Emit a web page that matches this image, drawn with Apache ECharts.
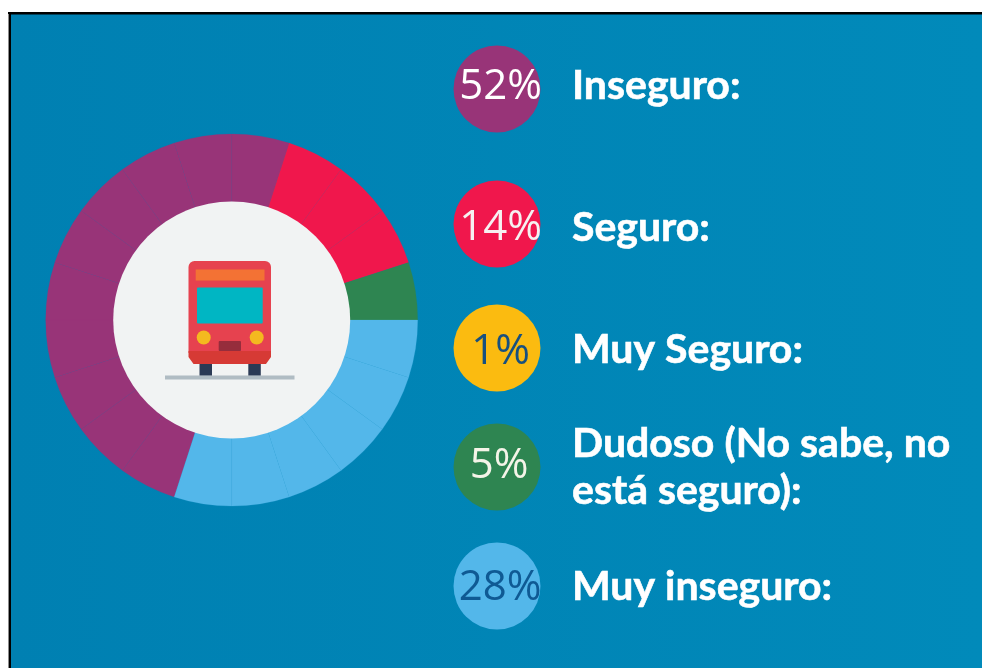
<!DOCTYPE html>
<html>
<head>
<meta charset="utf-8">
<style>
  html, body { margin: 0; padding: 0; background: #fff; }
  #chart { width: 982px; height: 668px; }
</style>
<script src="https://cdn.jsdelivr.net/npm/echarts@6/dist/echarts.min.js"></script>
</head>
<body>
<div id="chart"></div>
<script>
// legend, top to bottom
var categories = ['Inseguro:', 'Seguro:', 'Muy Seguro:', 'Dudoso (No sabe, no\nestá seguro):', 'Muy inseguro:'];
var percentLabels = [52, 14, 1, 5, 28];

// the ring is built out of equal 5% wedges
var wedgeValue = 5;
var wedgeCounts = [10, 3, 0, 1, 6];

var colors = ['#983478', '#f0174c', '#fbbb10', '#2e8551', '#53b7ea'];
var percentColors = ['#ffffff', '#f6f1f1', '#17507f', '#f4f4e8', '#0f5a94'];
var circleY = [89, 224, 348, 467, 586];
var percentX = [500.5, 500.5, 500.5, 499, 500];
var percentY = [87, 228, 352, 466, 588];
var textY = [86, 228, 350, 467, 587];

var pieData = [];
wedgeCounts.forEach(function (count, i) {
  for (var k = 0; k < count; k++) {
    pieData.push({
      name: categories[i],
      value: wedgeValue,
      itemStyle: { color: colors[i], borderColor: colors[i], borderWidth: 0.2 }
    });
  }
});

var graphics = [
  { type: 'rect', z: 0, shape: { x: 8, y: 12, width: 974, height: 656 }, style: { fill: '#000' } },
  { type: 'rect', z: 0, shape: { x: 8, y: 14, width: 1, height: 654 }, style: { fill: '#8c8c8c' } },
  { type: 'rect', z: 0, shape: { x: 11, y: 14.5, width: 971, height: 654 }, style: {
    fill: new echarts.graphic.LinearGradient(0, 0, 1, 0, [
      { offset: 0, color: '#0080b2' },
      { offset: 1, color: '#018aba' }
    ])
  } },
  // centre of the ring and the bus
  { type: 'circle', z: 5, shape: { cx: 231.7, cy: 320, r: 118.5 }, style: { fill: '#f1f3f3' } },
  { type: 'rect', z: 6, shape: { x: 165, y: 375.5, width: 129.5, height: 4 }, style: { fill: '#b0bcc3' } },
  { type: 'rect', z: 6, shape: { x: 199.5, y: 362, width: 12.5, height: 13.5 }, style: { fill: '#2b3a55' } },
  { type: 'rect', z: 6, shape: { x: 248.3, y: 362, width: 12.5, height: 13.5 }, style: { fill: '#2b3a55' } },
  { type: 'rect', z: 6, shape: { x: 188.5, y: 261, width: 82.5, height: 92, r: [6, 6, 0, 0] }, style: { fill: '#e6424f' } },
  { type: 'polygon', z: 6, shape: { points: [[188.5, 351], [271, 351], [271, 357], [266, 364], [193.5, 364], [188.5, 357]] }, style: { fill: '#d63a35' } },
  { type: 'rect', z: 7, shape: { x: 195.7, y: 269.5, width: 68.8, height: 11 }, style: { fill: '#f37234' } },
  { type: 'rect', z: 7, shape: { x: 197, y: 287.5, width: 65.7, height: 36, r: 1 }, style: { fill: '#00b6c3' } },
  { type: 'circle', z: 7, shape: { cx: 203.7, cy: 337.5, r: 7 }, style: { fill: '#f4b91f' } },
  { type: 'circle', z: 7, shape: { cx: 256.7, cy: 337.5, r: 7 }, style: { fill: '#f4b91f' } },
  { type: 'rect', z: 7, shape: { x: 218.7, y: 341, width: 22.3, height: 10, r: 1 }, style: { fill: '#962d3c' } }
];

categories.forEach(function (name, i) {
  graphics.push({ type: 'circle', z: 5, shape: { cx: 497, cy: circleY[i], r: 43.5 }, style: { fill: colors[i] } });
  graphics.push({
    type: 'text', z: 6, x: percentX[i], y: percentY[i],
    style: {
      text: percentLabels[i] + '%', fill: percentColors[i], align: 'center', verticalAlign: 'middle',
      font: '500 42px "Open Sans"'
    }
  });
  graphics.push({
    type: 'text', z: 6, x: 572, y: textY[i],
    style: {
      text: name, fill: '#fff', align: 'left', verticalAlign: 'middle', lineHeight: 47,
      stroke: '#fff', lineWidth: 0.6,
      font: '700 41px "Lato"'
    }
  });
});

var chart = echarts.init(document.getElementById('chart'), null, { renderer: 'canvas' });
chart.setOption({
  animation: false,
  graphic: graphics,
  series: [{
    type: 'pie',
    z: 3,
    center: [231.7, 320],
    radius: [100, 186],
    startAngle: 252,
    clockwise: true,
    label: { show: false },
    labelLine: { show: false },
    emphasis: { disabled: true },
    data: pieData
  }]
});
</script>
</body>
</html>
